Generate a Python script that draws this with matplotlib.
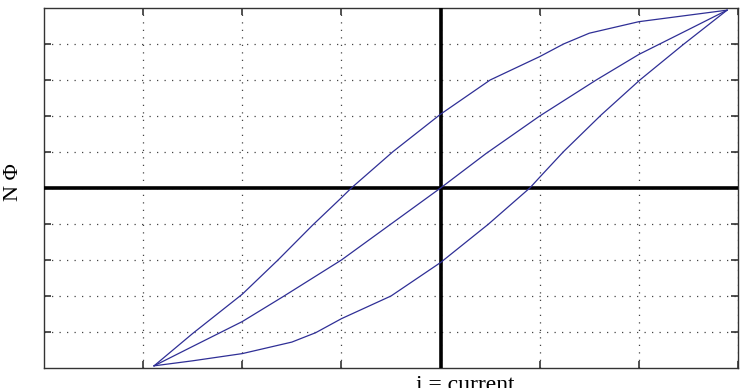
"""
plot.py
=======
Hysteresis loop (flux linkage N*Phi vs current i) on a dotted grid.
"""

import matplotlib
matplotlib.use("Agg")
import matplotlib.pyplot as plt  # noqa: E402

# --- data --------------------------------------------------------------
# upper (descending) branch, from the positive tip down to the negative tip
x_upper = [2.89, 2.5, 2.0, 1.5, 1.24, 1.0, 0.5, 0.0, -0.48, -0.9, -1.0, -1.29, -1.64, -2.0, -2.5, -2.89]
y_upper = [4.94, 4.8, 4.62, 4.3, 4.0, 3.65, 3.0, 2.05, 1.01, 0.0, -0.27, -1.03, -2.0, -2.95, -4.04, -4.94]

# lower (ascending) branch, from the negative tip up to the positive tip
x_lower = [-2.89, -2.5, -2.0, -1.5, -1.26, -1.0, -0.5, 0.0, 0.48, 0.9, 1.0, 1.24, 1.62, 2.01, 2.45, 2.89]
y_lower = [-4.94, -4.8, -4.6, -4.28, -4.02, -3.63, -3.0, -2.07, -1.01, 0.0, 0.3, 1.01, 2.03, 3.0, 3.99, 4.94]

# initial magnetisation curve through the origin
x_middle = [-2.89, -2.5, -2.0, -1.59, -1.0, -0.5, 0.0, 0.46, 1.0, 1.57, 2.0, 2.5, 2.89]
y_middle = [-4.94, -4.4, -3.71, -3.02, -2.0, -1.0, 0.0, 0.96, 2.0, 3.0, 3.71, 4.4, 4.94]

x_ticks = [-3, -2, -1, 0, 1, 2, 3]
y_ticks = [-4, -3, -2, -1, 0, 1, 2, 3, 4]

xlabel = "i = current"
ylabel = "N \u03a6"

LINE_COLOR = "#2f2f96"


def main() -> None:
    fig = plt.figure(figsize=(7.48, 3.88), dpi=100)
    ax = fig.add_axes([44 / 748, 1 - 368 / 388, 694 / 748, 360 / 388])

    ax.set_xlim(-4, 3)
    ax.set_ylim(-5, 5)
    ax.set_xticks(x_ticks)
    ax.set_yticks(y_ticks)
    ax.set_xticklabels([])
    ax.set_yticklabels([])
    ax.tick_params(direction="in", length=5, width=1.2, top=True, right=True,
                   color="#333333")
    for sp in ax.spines.values():
        sp.set_linewidth(1.0)
        sp.set_color("#333333")

    ax.grid(True, color="#444444", linestyle=(0, (1, 5)), linewidth=0.9)

    # bold coordinate axes
    ax.axhline(0, color="black", linewidth=2.6, zorder=3)
    ax.axvline(0, color="black", linewidth=2.6, zorder=3)

    ax.plot(x_upper, y_upper, color=LINE_COLOR, linewidth=0.9, zorder=4)
    ax.plot(x_lower, y_lower, color=LINE_COLOR, linewidth=0.9, zorder=4)
    ax.plot(x_middle, y_middle, color=LINE_COLOR, linewidth=0.9, zorder=4)

    fig.text(14 / 748, 1 - 182 / 388, ylabel, rotation=90, ha="center", va="center",
             fontsize=16, family="Liberation Serif")
    fig.text(465 / 748, -3 / 388, xlabel, ha="center", va="baseline",
             fontsize=17, family="Liberation Serif")

    fig.savefig("out.png", dpi=100)
    plt.close(fig)


if __name__ == "__main__":
    main()
